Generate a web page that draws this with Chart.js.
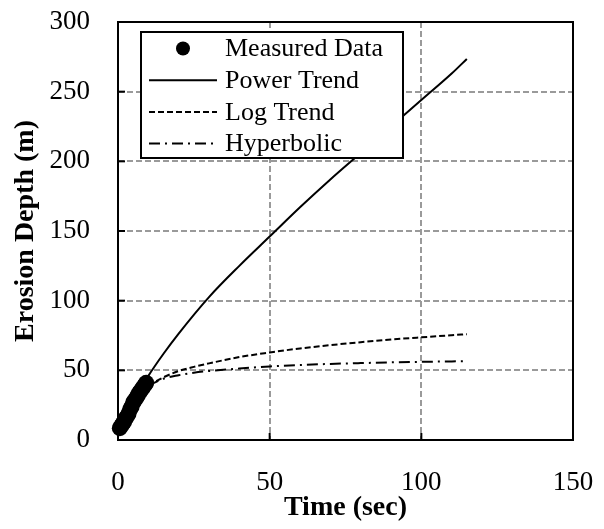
<!DOCTYPE html>
<html>
<head>
<meta charset="utf-8">
<script src="https://cdn.jsdelivr.net/npm/chart.js@4/dist/chart.umd.min.js"></script>
<style>
  html, body { margin: 0; padding: 0; background: #ffffff; }
  #wrap { width: 604px; height: 529px; }
</style>
</head>
<body>
<div id="wrap"><canvas id="c" width="604" height="529"></canvas></div>
<script>
// ---- data ----
const measuredTime  = [0.6, 1, 1.5, 2, 2.5, 3, 3.5, 4, 4.5, 5, 5.5, 6, 6.5, 7, 7.5, 8, 8.5, 9, 9.3];
const measuredDepth = [8.5, 10, 11.5, 13, 15.5, 17, 19, 22, 24, 27, 28.5, 30, 32, 34, 35.5, 37, 38.5, 40, 41];

const powerTime  = [1, 2, 5, 10, 15, 20, 30, 40, 50, 60, 70, 80, 90, 100, 110, 115];
const powerDepth = [8.6, 14.2, 27.7, 46.0, 61.9, 76.4, 102.6, 125, 146, 167, 187, 206, 225, 244, 263, 273.5];

const logTime  = [10, 15, 20, 25, 30, 40, 50, 60, 70, 80, 90, 100, 110, 115];
const logDepth = [39, 45, 49.5, 52.5, 55, 59.5, 62.8, 65.7, 68.1, 70.2, 72.1, 73.7, 75.2, 75.9];

const hypTime  = [10, 15, 20, 25, 30, 40, 50, 60, 70, 80, 90, 100, 110, 115];
const hypDepth = [39, 44, 46.5, 48.3, 49.5, 51.3, 52.8, 53.8, 54.6, 55.2, 55.7, 56.1, 56.4, 56.6];

const xTicks = [0, 50, 100, 150];
const yTicks = [0, 50, 100, 150, 200, 250, 300];

const seriesNames = ['Measured Data', 'Power Trend', 'Log Trend', 'Hyperbolic'];
const xTitle = 'Time (sec)';
const yTitle = 'Erosion Depth (m)';

const pairs = (xs, ys) => xs.map((x, i) => ({ x: x, y: ys[i] }));

const FONT = "'Liberation Serif', 'Times New Roman', serif";

const noOverhang = s => { s.paddingTop = 0; s.paddingBottom = 0; s.paddingLeft = 0; s.paddingRight = 0; };

const frameAndLegend = {
  id: 'frameAndLegend',
  afterDraw(chart) {
    const ctx = chart.ctx;
    const a = chart.chartArea;
    const xs = chart.scales.x, ys = chart.scales.y;
    ctx.save();
    // inward tick marks
    ctx.strokeStyle = '#000';
    ctx.lineWidth = 2;
    ctx.setLineDash([]);
    xTicks.forEach(v => {
      const px = xs.getPixelForValue(v);
      ctx.beginPath(); ctx.moveTo(px, a.bottom); ctx.lineTo(px, a.bottom - 7); ctx.stroke();
    });
    yTicks.forEach(v => {
      const py = ys.getPixelForValue(v);
      ctx.beginPath(); ctx.moveTo(a.left, py); ctx.lineTo(a.left + 7, py); ctx.stroke();
    });
    // frame
    ctx.strokeRect(a.left, a.top, a.right - a.left, a.bottom - a.top);

    // legend
    const lx = a.left + 23, ly = a.top + 10, lw = 262, lh = 126;
    ctx.fillStyle = '#fff';
    ctx.fillRect(lx, ly, lw, lh);
    ctx.lineWidth = 2;
    ctx.strokeStyle = '#000';
    ctx.strokeRect(lx, ly, lw, lh);
    const rowH = 31.7;
    const sx0 = lx + 8, sx1 = lx + 76, tx = lx + 84;
    ctx.font = '26px ' + FONT;
    ctx.textBaseline = 'middle';
    ctx.textAlign = 'left';
    chart.data.datasets.forEach((ds, i) => {
      const cy = ly + 16.5 + i * rowH;
      if (i === 0) {
        ctx.fillStyle = '#000';
        ctx.beginPath();
        ctx.arc((sx0 + sx1) / 2, cy, 7, 0, Math.PI * 2);
        ctx.fill();
      } else {
        ctx.strokeStyle = '#000';
        ctx.lineWidth = ds.borderWidth;
        ctx.setLineDash(ds.borderDash || []);
        ctx.beginPath(); ctx.moveTo(sx0, cy); ctx.lineTo(sx1, cy); ctx.stroke();
        ctx.setLineDash([]);
      }
      ctx.fillStyle = '#000';
      ctx.fillText(ds.label, tx, cy + 1);
    });
    ctx.restore();
  }
};

new Chart(document.getElementById('c'), {
  type: 'scatter',
  data: {
    datasets: [
      {
        label: seriesNames[0],
        data: pairs(measuredTime, measuredDepth),
        showLine: false,
        clip: false,
        pointRadius: 8,
        pointBackgroundColor: '#000',
        pointBorderColor: '#000',
        pointBorderWidth: 0,
        order: 0
      },
      {
        label: seriesNames[1],
        data: pairs(powerTime, powerDepth),
        showLine: true,
        borderColor: '#000',
        borderWidth: 2,
        pointRadius: 0,
        cubicInterpolationMode: 'monotone',
        order: 1
      },
      {
        label: seriesNames[2],
        data: pairs(logTime, logDepth),
        showLine: true,
        borderColor: '#000',
        borderWidth: 2,
        borderDash: [6, 3],
        pointRadius: 0,
        cubicInterpolationMode: 'monotone',
        order: 2
      },
      {
        label: seriesNames[3],
        data: pairs(hypTime, hypDepth),
        showLine: true,
        borderColor: '#000',
        borderWidth: 2,
        borderDash: [11, 5, 2, 5],
        pointRadius: 0,
        cubicInterpolationMode: 'monotone',
        order: 3
      }
    ]
  },
  options: {
    responsive: false,
    animation: false,
    devicePixelRatio: 1,
    layout: { padding: { top: 22, right: 31, left: 0, bottom: 0 } },
    plugins: {
      legend: { display: false },
      tooltip: { enabled: false }
    },
    scales: {
      x: {
        type: 'linear',
        min: 0, max: 150,
        afterBuildTicks: s => { s.ticks = xTicks.map(v => ({ value: v })); },
        afterFit: s => { s.height = 89; noOverhang(s); },
        grid: { color: '#9a9a9a', lineWidth: 2, drawTicks: false },
        border: { display: false, dash: [6, 3] },
        ticks: { color: '#000', font: { family: FONT, size: 27 }, padding: 27, maxRotation: 0 },
        title: { display: true, text: xTitle, color: '#000', font: { family: FONT, size: 28, weight: 'bold' }, padding: { top: 0, bottom: 4 } }
      },
      y: {
        type: 'linear',
        min: 0, max: 300,
        afterBuildTicks: s => { s.ticks = yTicks.map(v => ({ value: v })); },
        afterFit: s => { s.width = 118; noOverhang(s); },
        grid: { color: '#9a9a9a', lineWidth: 2, drawTicks: false },
        border: { display: false, dash: [6, 3] },
        ticks: { color: '#000', font: { family: FONT, size: 27 }, padding: 28 },
        title: { display: true, text: yTitle, color: '#000', font: { family: FONT, size: 28, weight: 'bold' }, padding: { top: 9, bottom: 0 } }
      }
    }
  },
  plugins: [frameAndLegend]
});
</script>
</body>
</html>
